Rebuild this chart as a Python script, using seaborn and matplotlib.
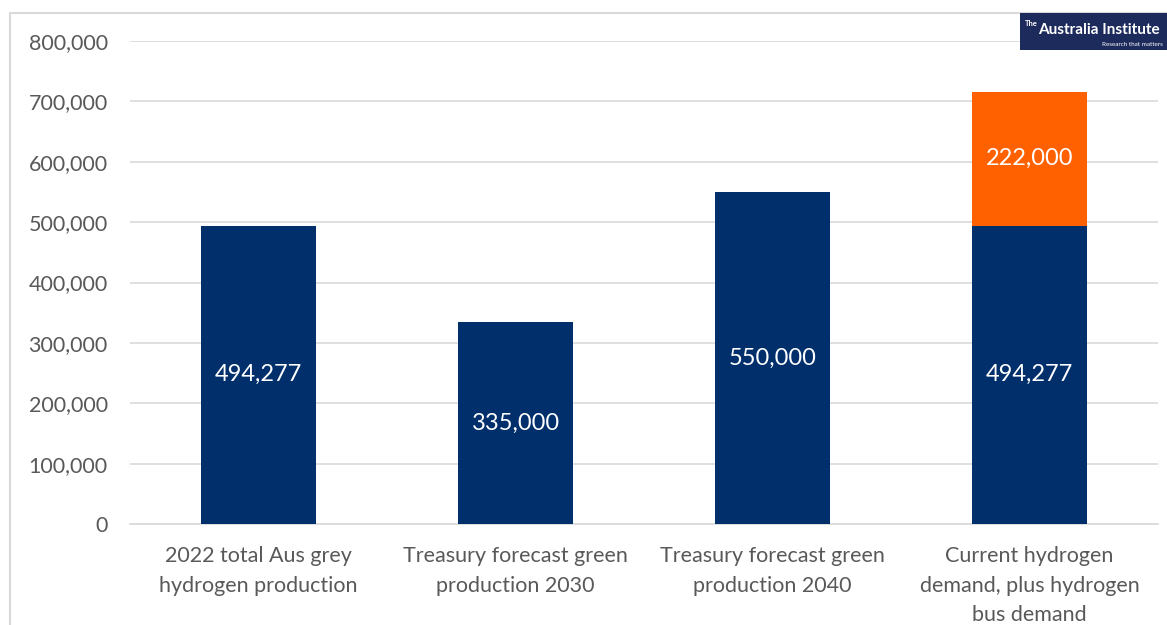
import matplotlib
matplotlib.use("Agg")
import matplotlib.pyplot as plt
import seaborn as sns
import pandas as pd
from matplotlib.patches import Rectangle
from matplotlib.ticker import FuncFormatter

categories = [
    "2022 total Aus grey\nhydrogen production",
    "Treasury forecast green\nproduction 2030",
    "Treasury forecast green\nproduction 2040",
    "Current hydrogen\ndemand, plus hydrogen\nbus demand",
]
base_values = [494277, 335000, 550000, 494277]
bus_values = [0, 0, 0, 222000]
y_ticks = [0, 100000, 200000, 300000, 400000, 500000, 600000, 700000, 800000]

NAVY = "#002F6C"
ORANGE = "#FF6000"
GREY_TEXT = "#595959"
GRID = "#D9D9D9"

sns.set_theme(style="white")
plt.rcParams["font.family"] = ["Lato", "DejaVu Sans"]

df = pd.DataFrame({
    "category": categories,
    "base": base_values,
    "bus": bus_values,
})
df["total"] = df["base"] + df["bus"]

fig = plt.figure(figsize=(11.67, 6.25), dpi=100)
ax = fig.add_axes([130 / 1167, 1 - 524 / 625, 1028 / 1167, (524 - 41) / 625])

# outer chart frame
fig.patches.append(Rectangle((10 / 1167, -0.1), 1.2, 1 - 13 / 625 + 0.1,
                             transform=fig.transFigure, fill=False,
                             edgecolor="#D9D9D9", linewidth=1.5, zorder=0))

# stacked bars: totals in orange, base drawn over them in navy
sns.barplot(data=df, x="category", y="total", color=ORANGE, width=0.45,
            saturation=1, linewidth=0, ax=ax, zorder=3)
sns.barplot(data=df, x="category", y="base", color=NAVY, width=0.45,
            saturation=1, linewidth=0, ax=ax, zorder=4)

ax.set_ylim(0, 800000)
ax.set_xlim(-0.5, len(categories) - 0.5)
ax.set_yticks(y_ticks)
ax.yaxis.set_major_formatter(FuncFormatter(lambda v, p: f"{int(v):,}"))
ax.grid(axis="y", color=GRID, linewidth=1.2, zorder=0)
ax.set_axisbelow(True)
for s in ["top", "right", "left"]:
    ax.spines[s].set_visible(False)
ax.spines["bottom"].set_color(GRID)
ax.spines["bottom"].set_linewidth(1.2)
ax.set_xlabel("")
ax.set_ylabel("")
ax.tick_params(axis="y", labelsize=15.5, colors=GREY_TEXT, length=0, pad=16)
ax.tick_params(axis="x", labelsize=15.5, colors=GREY_TEXT, length=0, pad=16)
for lab in ax.get_xticklabels():
    lab.set_linespacing(1.58)

# value labels
for i, (b, e) in enumerate(zip(base_values, bus_values)):
    ax.text(i, b / 2, f"{b:,}", ha="center", va="center", color="white",
            fontsize=17, zorder=5)
    if e:
        ax.text(i, b + e / 2, f"{e:,}", ha="center", va="center",
                color="white", fontsize=17, zorder=5)

# logo
fig.patches.append(Rectangle((1020 / 1167, 1 - 50 / 625), 0.2, 37 / 625,
                             transform=fig.transFigure, facecolor="#1D2B5C",
                             edgecolor="none", zorder=5))
fig.text(1025 / 1167, 1 - 24 / 625, "The", color="white", fontsize=5.5,
         ha="left", va="center", zorder=6, fontweight="bold")
fig.text(1038 / 1167, 1 - 30 / 625, "Australia Institute", color="white",
         fontsize=11, ha="left", va="center", zorder=6, fontweight="bold")
fig.text(1163 / 1167, 1 - 44 / 625, "Research that matters", color="white",
         fontsize=4.5, ha="right", va="center", zorder=6)

fig.savefig("out.png", dpi=100)
